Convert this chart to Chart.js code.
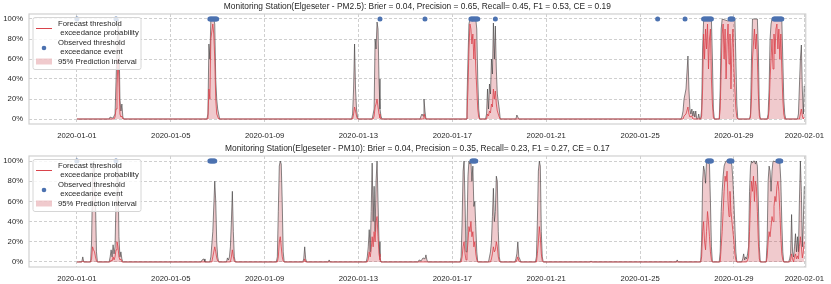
<!DOCTYPE html>
<html lang="en">
<head>
  <meta charset="UTF-8">
  <title>Elgeseter threshold exceedance</title>
  <script src="https://cdn.jsdelivr.net/npm/chart.js"></script>
  <style>
    body {
      margin: 0;
      background: #ffffff;
    }
    .panel {
      width: 831px;
      position: relative;
    }
    canvas {
      display: block;
    }
  </style>
</head>
<body>
  <div class="panel"><canvas id="pm25Chart" width="831" height="140"></canvas></div>
  <div class="panel"><canvas id="pm10Chart" width="831" height="144"></canvas></div>

  <script>
    // x values are hours since 2020-01-01 00:00
    const tickHours = [0, 96, 192, 288, 384, 480, 576, 672, 744];
    const tickLabels = ['2020-01-01', '2020-01-05', '2020-01-09', '2020-01-13', '2020-01-17',
                        '2020-01-21', '2020-01-25', '2020-01-29', '2020-02-01'];
    const yTicks = [0, 20, 40, 60, 80, 100];

    const pm25Title = 'Monitoring Station(Elgeseter - PM2.5): Brier = 0.04, Precision = 0.65, Recall= 0.45, F1 = 0.53, CE = 0.19';
    const pm10Title = 'Monitoring Station(Elgeseter - PM10): Brier = 0.04, Precision = 0.35, Recall= 0.23, F1 = 0.27, CE = 0.17';

    // upper edge of the 95% interval, [hour, percent]
    const pm25Upper = [
      [0,0],[33,0],[34,2],[36,1],[37,1],[39,5],[41,70],[42,100],[43,85],[44,20],[45,8],[46,15],[47,2],[48,0],
      [133,0],[134,5],[135,75],[136,60],[137,100],[140,100],[141,95],[142,40],[143,20],[144,10],[146,0],
      [281,0],[282,5],[283,30],[284,75],[285,30],[286,10],[287,2],[288,0],
      [302,0],[304,10],[305,80],[306,70],[307,97],[308,90],[309,40],[310,10],[311,3],[312,0],
      [351,0],[352,3],[353,5],[354,3],[355,20],[356,8],[357,0],
      [398,0],[399,20],[400,60],[401,95],[402,100],[405,98],[408,100],[409,90],[410,40],[411,10],[412,0],
      [418,0],[419,5],[420,30],[421,10],[422,35],[423,25],[424,60],[425,45],[426,96],[427,60],[428,93],[429,50],[430,25],[432,10],[433,0],
      [449,0],[450,4],[452,0],
      [618,0],[619,3],[620,8],[621,20],[623,30],[625,63],[626,30],[627,10],[628,5],[629,10],[630,3],[631,8],[632,2],[633,8],[634,0],
      [635,0],[636,5],[637,0],
      [638,0],[639,10],[640,70],[641,98],[642,100],[645,99],[649,100],[650,60],[651,10],[652,0],
      [657,0],[658,30],[659,90],[660,100],[666,98],[673,100],[674,60],[675,15],[676,0],
      [688,0],[689,5],[690,60],[691,100],[696,100],[697,70],[698,10],[699,0],
      [706,0],[707,5],[708,30],[709,80],[710,95],[711,100],[716,99],[721,100],[722,60],[723,20],[724,5],[725,0],
      [737,0],[738,5],[740,60],[741,74],[742,30],[743,5],[744,33]
    ];

    // forecast probability, [hour, percent]
    const pm25Mean = [
      [0,0],[38,0],[39,2],[40,10],[41,30],[42,60],[43,40],[44,5],[45,2],[46,3],[47,0],
      [134,0],[135,30],[136,20],[137,80],[139,95],[140,85],[141,60],[142,20],[143,5],[145,0],
      [282,0],[283,5],[284,12],[285,8],[286,3],[287,0],
      [303,0],[304,3],[305,12],[306,15],[307,20],[308,12],[309,5],[310,1],[311,0],
      [354,0],[355,5],[356,2],[357,0],
      [398,0],[399,5],[400,30],[401,70],[402,95],[403,90],[404,75],[405,85],[406,60],[407,80],[408,50],[409,30],[410,10],[411,2],[412,0],
      [419,0],[420,5],[421,3],[422,8],[423,6],[424,15],[425,12],[426,30],[427,20],[428,28],[429,15],[430,8],[432,2],[433,0],
      [620,0],[621,3],[623,5],[625,12],[626,5],[627,2],[629,3],[630,0],
      [638,0],[639,3],[640,30],[641,85],[642,60],[643,90],[644,70],[645,95],[646,50],[647,80],[648,90],[649,40],[650,15],[651,2],[652,0],
      [657,0],[658,10],[659,50],[660,85],[661,95],[662,60],[663,90],[664,40],[665,75],[666,95],[667,55],[668,85],[669,30],[670,70],[671,90],[672,50],[673,30],[674,10],[675,2],[676,0],
      [688,0],[689,2],[690,20],[691,60],[692,75],[693,90],[694,70],[695,85],[696,60],[697,25],[698,3],[699,0],
      [707,0],[708,10],[709,40],[710,60],[711,80],[712,50],[713,85],[714,65],[715,90],[716,95],[717,70],[718,90],[719,60],[720,85],[721,50],[722,20],[723,5],[724,0],
      [739,0],[740,5],[741,10],[742,3],[743,0],[744,2]
    ];

    // hours with an observed exceedance
    const pm25Events = [0, 40, 136, 137, 138, 139, 140, 141, 142, 143, 310, 356,
      403, 404, 405, 406, 407, 408, 409, 410, 428, 594, 622,
      641, 642, 643, 644, 645, 646, 647, 648, 649, 668, 669, 670, 671,
      713, 714, 715, 716, 717, 718, 719, 720, 721];

    const pm10Upper = [
      [0,0],[5,0],[6,5],[7,0],
      [14,0],[15,20],[16,80],[17,100],[18,95],[19,60],[20,10],[21,0],
      [33,0],[34,5],[35,12],[36,5],[37,17],[38,8],[39,15],[40,60],[41,100],[42,90],[43,25],[44,5],[45,10],[46,3],[47,0],
      [127,0],[128,2],[130,3],[131,0],
      [136,0],[137,5],[139,30],[141,80],[142,60],[143,20],[144,5],[145,0],
      [153,0],[154,4],[155,2],[156,5],[157,15],[158,40],[159,70],[160,30],[161,5],[162,0],
      [204,0],[205,5],[206,50],[207,95],[208,100],[209,97],[210,60],[211,10],[212,0],
      [231,0],[232,3],[233,15],[234,3],[235,0],
      [257,0],[258,2],[259,0],
      [296,0],[297,5],[298,15],[299,32],[300,10],[301,50],[302,98],[303,40],[304,75],[305,30],[306,80],[307,100],[308,60],[309,20],[310,5],[311,0],
      [349,0],[350,2],[352,1],[354,4],[356,3],[357,7],[358,2],[359,0],
      [392,0],[393,5],[394,40],[395,90],[396,100],[397,60],[398,10],[399,30],[400,85],[401,100],[402,97],[403,100],[404,80],[405,95],[406,55],[407,60],[408,35],[409,10],[410,0],
      [421,0],[422,5],[423,10],[424,20],[425,45],[426,73],[427,40],[428,50],[429,85],[430,80],[431,30],[432,5],[433,0],
      [448,0],[449,3],[450,8],[451,20],[452,5],[453,3],[454,0],
      [469,0],[470,5],[471,40],[472,90],[473,100],[474,95],[475,30],[476,5],[477,0],
      [525,0],[526,1],[527,0],
      [613,0],[614,2],[615,0],
      [638,0],[639,20],[640,80],[641,95],[642,90],[643,78],[644,100],[647,97],[648,60],[649,15],[650,0],
      [657,0],[658,10],[659,50],[660,70],[661,85],[662,95],[663,98],[664,100],[667,100],[668,98],[669,100],[670,95],[671,80],[672,60],[673,35],[674,10],[675,0],
      [680,0],[681,3],[682,8],[683,2],[684,5],[685,3],[686,8],[687,15],[688,70],[689,95],[690,100],[691,98],[692,100],[693,100],[694,97],[695,100],[696,95],[697,60],[698,15],[699,0],
      [705,0],[706,20],[707,80],[708,95],[709,90],[710,70],[711,90],[712,100],[719,98],[720,80],[721,40],[722,10],[723,0],
      [728,0],[729,3],[730,8],[731,47],[732,10],[733,5],[734,15],[735,28],[736,10],[737,25],[738,10],[739,60],[740,100],[741,70],[742,15],[743,40],[744,75]
    ];

    const pm10Mean = [
      [0,0],[5,0],[6,1],[7,0],
      [14,0],[15,3],[16,15],[17,12],[18,10],[19,5],[20,1],[21,0],
      [34,0],[35,2],[36,1],[37,5],[38,2],[39,5],[40,12],[41,20],[42,15],[43,5],[44,2],[45,3],[46,0],
      [138,0],[139,5],[141,15],[142,10],[143,4],[144,1],[145,0],
      [157,0],[158,5],[159,12],[160,5],[161,1],[162,0],
      [205,0],[206,5],[207,20],[208,25],[209,15],[210,5],[211,1],[212,0],
      [232,0],[233,3],[234,0],
      [297,0],[298,3],[299,10],[300,5],[301,12],[302,25],[303,15],[304,30],[305,20],[306,40],[307,45],[308,25],[309,8],[310,2],[311,0],
      [393,0],[394,5],[395,15],[396,20],[397,8],[398,2],[399,8],[400,20],[401,35],[402,30],[403,40],[404,25],[405,30],[406,15],[407,20],[408,8],[409,2],[410,0],
      [423,0],[424,3],[425,8],[426,15],[427,10],[428,12],[429,20],[430,15],[431,5],[432,1],[433,0],
      [449,0],[450,2],[451,5],[452,1],[453,0],
      [470,0],[471,8],[472,20],[473,35],[474,25],[475,8],[476,1],[477,0],
      [638,0],[639,5],[640,30],[641,40],[642,20],[643,12],[644,30],[645,50],[646,40],[647,25],[648,10],[649,2],[650,0],
      [658,0],[659,15],[660,30],[661,50],[662,70],[663,85],[664,80],[665,90],[666,60],[667,45],[668,70],[669,50],[670,40],[671,30],[672,20],[673,8],[674,2],[675,0],
      [685,0],[686,2],[687,5],[688,30],[689,60],[690,80],[691,70],[692,85],[693,60],[694,80],[695,75],[696,50],[697,20],[698,3],[699,0],
      [705,0],[706,5],[707,20],[708,30],[709,25],[710,35],[711,45],[712,40],[713,55],[714,65],[715,60],[716,75],[717,80],[718,70],[719,50],[720,25],[721,8],[722,2],[723,0],
      [729,0],[730,2],[731,8],[732,3],[733,0],[734,5],[735,8],[736,3],[737,6],[738,3],[739,15],[740,25],[741,15],[742,4],[743,10],[744,20]
    ];

    const pm10Events = [0, 40, 136, 137, 138, 139, 140, 141,
      404, 405, 406, 407, 408, 645, 646, 647, 648, 649,
      667, 668, 669, 670, 717, 718, 719, 720];

    const FONT = '"Liberation Sans", Arial, sans-serif';
    const TEXT = '#262626';
    const FILL = 'rgba(200, 60, 70, 0.27)';
    const RED = '#d9434b';
    const BLUE = '#4c72b0';

    // title, frame and legend are drawn by hand to match the matplotlib look
    const decorPlugin = {
      id: 'decor',
      afterDatasetsDraw(chart, args, opts) {
        const ctx = chart.ctx;
        const a = chart.chartArea;
        ctx.save();

        // frame
        ctx.strokeStyle = '#d0d0d0';
        ctx.lineWidth = 1.2;
        ctx.strokeRect(a.left, a.top, a.right - a.left, a.bottom - a.top);

        // title
        ctx.fillStyle = TEXT;
        ctx.font = '8.4px ' + FONT;
        ctx.textAlign = 'center';
        ctx.textBaseline = 'middle';
        ctx.fillText(opts.title, (a.left + a.right) / 2, a.top - 7);

        // legend
        const x0 = a.left + 4, y0 = a.top + 3.5, w = 108, h = 52;
        ctx.beginPath();
        ctx.roundRect(x0, y0, w, h, 2);
        ctx.fillStyle = 'rgba(255,255,255,0.8)';
        ctx.fill();
        ctx.strokeStyle = '#d6d6d6';
        ctx.lineWidth = 1;
        ctx.stroke();

        ctx.strokeStyle = RED;
        ctx.lineWidth = 1;
        ctx.beginPath();
        ctx.moveTo(x0 + 3, y0 + 11);
        ctx.lineTo(x0 + 19, y0 + 11);
        ctx.stroke();

        ctx.fillStyle = BLUE;
        ctx.beginPath();
        ctx.arc(x0 + 11, y0 + 30.5, 2.3, 0, Math.PI * 2);
        ctx.fill();

        ctx.fillStyle = FILL;
        ctx.fillRect(x0 + 3, y0 + 41, 16, 6);

        ctx.fillStyle = TEXT;
        ctx.font = '7.7px ' + FONT;
        ctx.textAlign = 'left';
        ctx.fillText('Forecast threshold', x0 + 25, y0 + 6.5);
        ctx.fillText(' exceedance probability', x0 + 25, y0 + 15.5);
        ctx.fillText('Observed threshold', x0 + 25, y0 + 25.5);
        ctx.fillText(' exceedance event', x0 + 25, y0 + 34.5);
        ctx.fillText('95% Prediction interval', x0 + 25, y0 + 44);

        ctx.restore();
      }
    };

    function toPoints(pairs) {
      return pairs.map(p => ({ x: p[0], y: p[1] }));
    }

    function makeChart(id, title, upper, mean, events, topPad, xHeight) {
      const ctx = document.getElementById(id).getContext('2d');
      return new Chart(ctx, {
        type: 'line',
        data: {
          datasets: [
            {
              label: 'Observed threshold exceedance event',
              type: 'scatter',
              data: events.map(h => ({ x: h, y: 100 })),
              backgroundColor: BLUE,
              borderColor: BLUE,
              pointRadius: 2.5,
              borderWidth: 0,
              order: 0
            },
            {
              label: 'Forecast threshold exceedance probability',
              data: toPoints(mean),
              borderColor: RED,
              borderWidth: 0.8,
              pointRadius: 0,
              fill: false,
              order: 1
            },
            {
              label: '95% Prediction interval',
              data: toPoints(upper),
              borderColor: 'rgba(55, 55, 55, 0.75)',
              borderWidth: 0.8,
              backgroundColor: FILL,
              pointRadius: 0,
              fill: 'origin',
              order: 2
            }
          ]
        },
        options: {
          responsive: false,
          animation: false,
          layout: { padding: { top: topPad, right: 24, left: 0, bottom: 0 } },
          plugins: {
            legend: { display: false },
            tooltip: { enabled: false },
            decor: { title: title }
          },
          scales: {
            x: {
              type: 'linear',
              min: -49,
              max: 745.5,
              afterBuildTicks: s => { s.ticks = tickHours.map(v => ({ value: v })); },
              afterFit: s => { s.height = xHeight; },
              ticks: {
                autoSkip: false,
                maxRotation: 0,
                padding: 7,
                color: TEXT,
                font: { family: FONT, size: 7.7 },
                callback: v => tickLabels[tickHours.indexOf(v)]
              },
              grid: { color: '#cfcfcf', drawTicks: false },
              border: { display: false, dash: [3, 2] }
            },
            y: {
              min: -5,
              max: 105,
              afterBuildTicks: s => { s.ticks = yTicks.map(v => ({ value: v })); },
              afterFit: s => { s.width = 29; },
              ticks: {
                padding: 6,
                color: TEXT,
                font: { family: FONT, size: 7.7 },
                callback: v => v + '%'
              },
              grid: { color: '#cfcfcf', drawTicks: false },
              border: { display: false, dash: [3, 2] }
            }
          }
        },
        plugins: [decorPlugin]
      });
    }

    makeChart('pm25Chart', pm25Title, pm25Upper, pm25Mean, pm25Events, 14, 16);
    makeChart('pm10Chart', pm10Title, pm10Upper, pm10Mean, pm10Events, 16, 17);
  </script>
</body>
</html>
